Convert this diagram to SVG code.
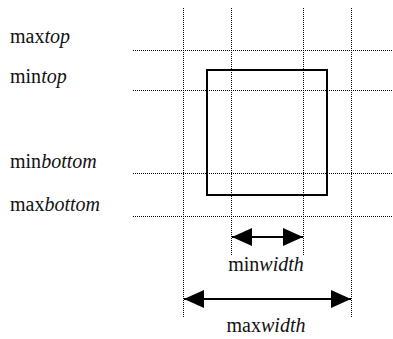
<svg xmlns="http://www.w3.org/2000/svg" width="393" height="339" viewBox="0 0 393 339">
<style>
.dot{stroke:#000;stroke-width:1;stroke-dasharray:1 1;fill:none}
.lbl{font-family:"Liberation Serif","Times New Roman",serif;font-size:20px;fill:#111}
.it{font-style:italic}
.box{fill:none;stroke:#000;stroke-width:2}
.arr{stroke:#000;stroke-width:2;fill:none}
</style>
<defs>
<marker id="ah" viewBox="0 0 20 18" refX="20" refY="9" markerWidth="20" markerHeight="18" markerUnits="userSpaceOnUse" orient="auto-start-reverse">
<path d="M0,0 L20,9 L0,18 Z" fill="#000"/>
</marker>
</defs>
<rect width="393" height="339" fill="#fff"/>
<g id="grid">
<line class="dot" x1="133" y1="50.5" x2="393" y2="50.5"/>
<line class="dot" x1="133" y1="90.5" x2="393" y2="90.5"/>
<line class="dot" x1="133" y1="173.5" x2="393" y2="173.5"/>
<line class="dot" x1="133" y1="216.5" x2="393" y2="216.5"/>
<line class="dot" x1="183.5" y1="8" x2="183.5" y2="318"/>
<line class="dot" x1="231.5" y1="8" x2="231.5" y2="256"/>
<line class="dot" x1="303.5" y1="8" x2="303.5" y2="256"/>
<line class="dot" x1="351.5" y1="8" x2="351.5" y2="318"/>
</g>
<g id="box">
<rect class="box" x="207" y="70" width="120" height="125"/>
</g>
<g id="labels">
<text class="lbl" x="10" y="43">max<tspan class="it">top</tspan></text>
<text class="lbl" x="10" y="83">min<tspan class="it">top</tspan></text>
<text class="lbl" x="10" y="168">min<tspan class="it">bottom</tspan></text>
<text class="lbl" x="10" y="211">max<tspan class="it">bottom</tspan></text>
<text class="lbl" x="266" y="271" text-anchor="middle">min<tspan class="it">width</tspan></text>
<text class="lbl" x="266" y="332" text-anchor="middle">max<tspan class="it">width</tspan></text>
</g>
<g id="connectors">
<line class="arr" x1="232" y1="237" x2="303" y2="237" marker-start="url(#ah)" marker-end="url(#ah)"/>
<line class="arr" x1="184" y1="299" x2="351" y2="299" marker-start="url(#ah)" marker-end="url(#ah)"/>
</g>
</svg>
